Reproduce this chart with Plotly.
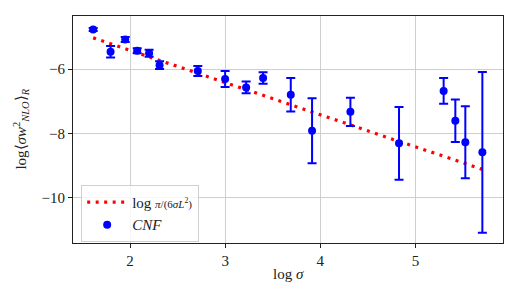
import plotly.graph_objects as go

# data
log_sigma = [1.612, 1.795, 1.949, 2.075, 2.200, 2.310, 2.712, 2.999, 3.220,
             3.398, 3.689, 3.913, 4.316, 4.827, 5.296, 5.419, 5.524, 5.703]
cnf_value = [-4.77, -5.46, -5.08, -5.43, -5.51, -5.88, -6.06, -6.31, -6.57,
             -6.28, -6.80, -7.92, -7.33, -8.31, -6.68, -7.61, -8.28, -8.59]
cnf_error = [0.05, 0.18, 0.08, 0.08, 0.11, 0.12, 0.155, 0.25, 0.18,
             0.18, 0.52, 1.01, 0.44, 1.13, 0.40, 0.66, 1.12, 2.50]
# analytic curve log(pi/(6 sigma L^2)) values at the same sigma points
fit_value = [-5.03, -5.21, -5.37, -5.49, -5.62, -5.73, -6.13, -6.42, -6.64,
             -6.82, -7.11, -7.33, -7.73, -8.25, -8.71, -8.84, -8.94, -9.12]

x_ticks = [2, 3, 4, 5]
y_ticks = [-10, -8, -6]
y_tick_labels = ["\u221210", "\u22128", "\u22126"]

FONT = "Liberation Serif"

fig = go.Figure()
fig.add_trace(go.Scatter(
    x=log_sigma, y=fit_value, mode="lines",
    line=dict(color="red", width=3.2, dash="3px,5.5px"),
    name="log <span style='font-size:11px'><i>\u03c0</i>/(6<i>\u03c3L</i><sup>2</sup>)</span>",
))
fig.add_trace(go.Scatter(
    x=log_sigma, y=cnf_value, mode="markers",
    marker=dict(color="blue", size=8),
    error_y=dict(type="data", array=cnf_error, color="blue", thickness=2, width=4.5),
    name="<i>CNF</i>",
))

axis_common = dict(
    showline=True, linecolor="#222", linewidth=1.2, mirror=True,
    ticks="outside", ticklen=4, tickcolor="#222", tickwidth=1,
    showgrid=True, gridcolor="#cfcfcf", gridwidth=1, zeroline=False,
    tickfont=dict(family=FONT, size=15, color="#222"),
    automargin=False,
)

# page body has an 8px margin, so the figure is sized 512x292 and offset accordingly
fig.update_layout(
    width=512, height=292,
    margin=dict(l=65, r=17, t=8, b=57),
    paper_bgcolor="white", plot_bgcolor="white",
    font=dict(family=FONT, size=14, color="#222"),
    xaxis=dict(range=[1.4, 5.92], tickvals=x_ticks, **axis_common),
    yaxis=dict(range=[-11.41, -4.35], tickvals=y_ticks, ticktext=y_tick_labels,
               **axis_common),
    legend=dict(x=0.019, y=0.256, xanchor="left", yanchor="top",
                bgcolor="rgba(255,255,255,0.8)", bordercolor="#d0d0d0", borderwidth=1,
                font=dict(family=FONT, size=15), tracegroupgap=4,
                itemwidth=40),
    showlegend=True,
    annotations=[
        dict(text="log <i>\u03c3</i>", xref="paper", yref="paper", x=0.5, y=-0.135,
             xanchor="center", yanchor="middle", showarrow=False,
             font=dict(family=FONT, size=15)),
        dict(text="log\u27e8<i>\u03c3w</i><sup>2</sup><sub><i>NLO</i></sub>\u27e9<sub><i>R</i></sub>",
             xref="paper", yref="paper", x=-0.123, y=0.5, textangle=-90,
             xanchor="center", yanchor="middle", showarrow=False,
             font=dict(family=FONT, size=15)),
    ],
)

fig.write_html("out.html")
